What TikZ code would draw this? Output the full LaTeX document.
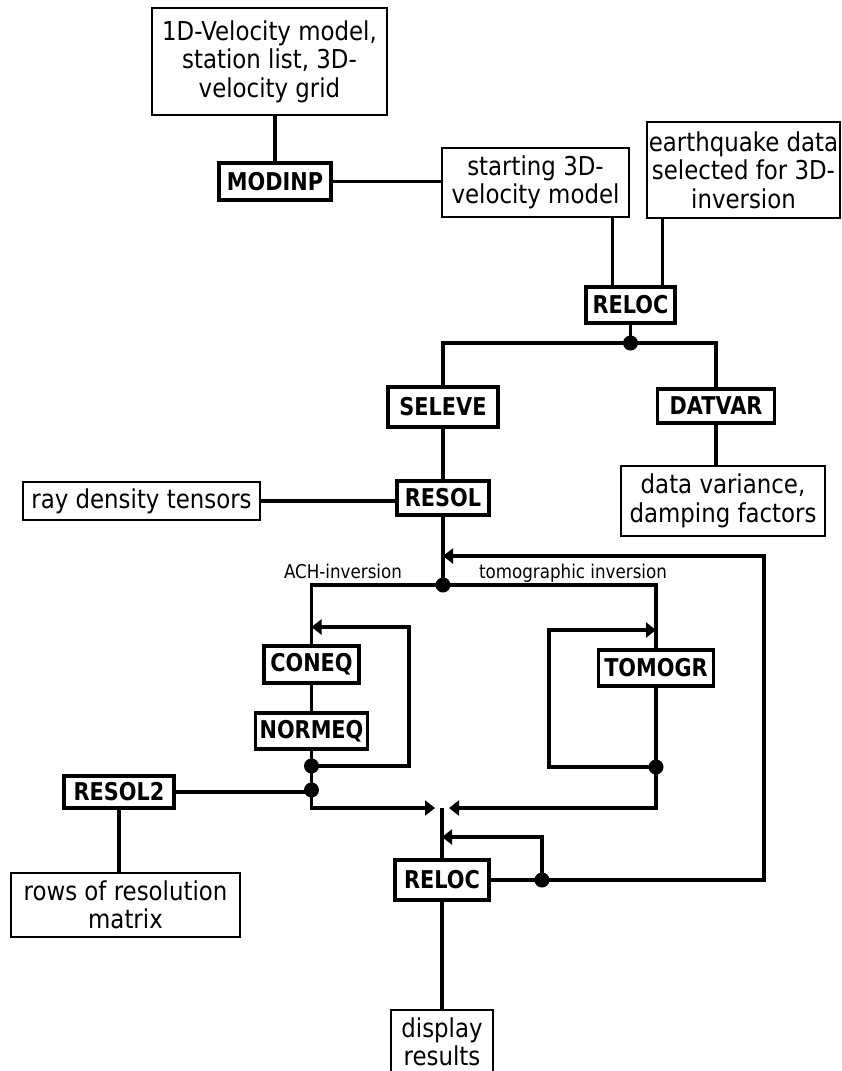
\documentclass[tikz,border=0pt]{standalone}
\usepackage{fontspec}
\setmainfont{DejaVu Sans}
\newfontfamily\narrowsans{DejaVu Sans}[FakeStretch=0.88]
\newfontfamily\procsans{DejaVu Sans}[FakeStretch=0.85]
\usetikzlibrary{arrows.meta}
\begin{document}
\begin{tikzpicture}[x=1pt,y=-1pt,
  proc/.style={draw, line width=3.2pt, inner sep=0pt,
    font=\procsans\bfseries\fontsize{24.5}{26}\selectfont},
  databox/.style={draw, line width=1.6pt, inner sep=0pt, align=center,
    font=\narrowsans\fontsize{26}{28.5}\selectfont},
  conn/.style={line width=3.2pt},
  arr/.style={conn, -{Triangle[length=10pt,width=15pt]}},
  branchlabel/.style={inner sep=0pt, font=\narrowsans\fontsize{19}{20}\selectfont},
  dotmark/.style={fill=black}]
\useasboundingbox (0,0) rectangle (842,1071);

% data boxes
\node[databox, minimum width=235pt, minimum height=107pt] (vel1d) at (269.5,61.5)
  {1D-Velocity model,\\station list, 3D-\\velocity grid};
\node[databox, minimum width=187pt, minimum height=69pt] (start3d) at (535.5,182.5)
  {starting 3D-\\velocity model};
\node[databox, minimum width=193pt, minimum height=96pt] (eqdata) at (743.5,170)
  {earthquake data\\selected for 3D-\\inversion};
\node[databox, minimum width=237pt, minimum height=38pt] (raydens) at (141.5,501)
  {ray density tensors};
\node[databox, minimum width=204pt, minimum height=70pt] (datvaro) at (723,501)
  {data variance,\\damping factors};
\node[databox, minimum width=229pt, minimum height=64pt] (rows) at (125.5,905)
  {rows of resolution\\matrix};
\node[databox, minimum width=102pt, minimum height=64pt] (display) at (442,1042)
  {display\\results};

% program boxes
\node[proc, minimum width=112pt, minimum height=37pt] (modinp) at (275,181.5) {MODINP};
\node[proc, minimum width=89pt, minimum height=36pt] (reloca) at (630.5,305) {RELOC};
\node[proc, minimum width=110pt, minimum height=40pt] (seleve) at (443,407) {SELEVE};
\node[proc, minimum width=117pt, minimum height=34pt] (datvar) at (716,406) {DATVAR};
\node[proc, minimum width=92pt, minimum height=34pt] (resol) at (443,498) {RESOL};
\node[proc, minimum width=95pt, minimum height=37pt] (coneq) at (311.5,664.5) {CONEQ};
\node[proc, minimum width=112pt, minimum height=36pt] (normeq) at (311.5,731) {NORMEQ};
\node[proc, minimum width=115pt, minimum height=36pt] (tomogr) at (656,668) {TOMOGR};
\node[proc, minimum width=110pt, minimum height=32pt] (resoltwo) at (119,792) {RESOL2};
\node[proc, minimum width=94pt, minimum height=40pt] (relocb) at (442,880) {RELOC};

% branch labels
\node[branchlabel] (achlab) at (343,571) {ACH-inversion};
\node[branchlabel] (tomlab) at (573,573) {tomographic inversion};

% junctions and bends
\coordinate (ja) at (reloca.south |- 0,343);
\coordinate (jb) at (resol.south |- 0,585);
\coordinate (fb) at (resol.south |- 0,556);
\coordinate (jc) at (normeq.south |- 0,766);
\coordinate (jd) at (normeq.south |- 0,790);
\coordinate (je) at (relocb.east -| 542,0);
\coordinate (jf) at (tomogr.south |- 0,767);
\coordinate (cr) at (je -| 764,0);
\coordinate (ca) at (coneq.north |- 0,627);
\coordinate (cb) at (tomogr.north |- 0,630);
\coordinate (jm) at (relocb.north |- 0,808);
\coordinate (cc) at (relocb.north |- 0,837);
\coordinate (jdl) at (jd |- jm);
\coordinate (jfl) at (jf |- jm);

% upper part
\draw[conn] (modinp.north) -- (modinp.north |- vel1d.south);
\draw[conn] (modinp.east) -- (modinp.east -| start3d.west);
\draw[conn] ([xshift=-18pt]reloca.north) -- ([xshift=-18pt]reloca.north |- start3d.south);
\draw[conn] ([xshift=32pt]reloca.north) -- ([xshift=32pt]reloca.north |- eqdata.south);
\draw[conn] (reloca.south) -- (ja);
\draw[conn] (seleve.north) |- (ja) -| (datvar.north);
\draw[conn] (datvar.south) -- (datvar.south |- datvaro.north);
\draw[conn] (seleve.south) -- (resol.north);
\draw[conn] (raydens.east) -- (raydens.east -| resol.west);
\draw[conn] (resol.south) -- (jb);
\draw[conn] (coneq.north) |- (jb) -| (tomogr.north);

% ACH branch with its iteration loop
\draw[conn] (coneq.south) -- (normeq.north);
\draw[conn] (normeq.south) -- (jd);
\draw[arr] (jc) -- (jc -| 409,0) |- (ca);
\draw[conn] (resoltwo.east) -- (resoltwo.east -| jd);
\draw[conn] (resoltwo.south) -- (resoltwo.south |- rows.north);
\draw[arr] (jd) -- (jdl) -- ([xshift=-7pt]jm);

% tomographic branch with its iteration loop
\draw[conn] (tomogr.south) -- (jf);
\draw[arr] (jf) -- (jf -| 549,0) |- (cb);
\draw[arr] (jf) -- (jfl) -- ([xshift=7pt]jm);

% relocation and outer loop
\draw[conn] (jm) -- (relocb.north);
\draw[arr] (relocb.east) -- (cr) |- (fb);
\draw[arr] (je) |- (cc);
\draw[conn] (relocb.south) -- (display.north);

% junction dots
\foreach \j in {ja,jb,jc,jd,je,jf}
  \fill[dotmark] (\j) circle (7.5pt);
\end{tikzpicture}
\end{document}
